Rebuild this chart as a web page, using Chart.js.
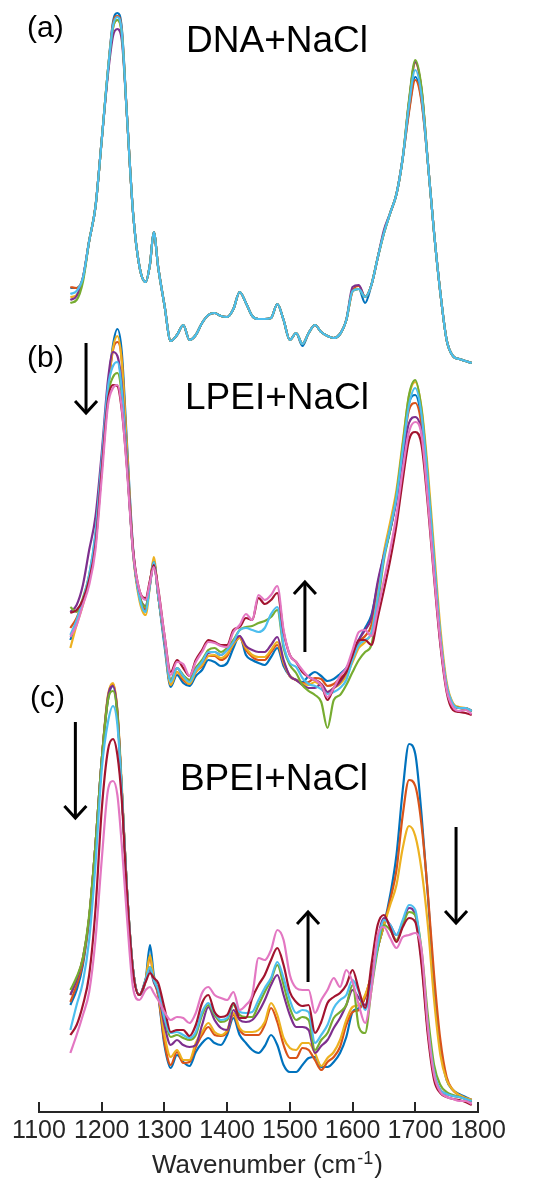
<!DOCTYPE html>
<html>
<head>
<meta charset="utf-8">
<script src="https://cdn.jsdelivr.net/npm/chart.js"></script>
<style>
html,body{margin:0;padding:0;background:#ffffff;}
canvas{display:block;}
</style>
</head>
<body>
<canvas id="c" width="538" height="1178"></canvas>
<script>
// ---------------- DATA ----------------
const wavenumbers = [1150,1160,1170,1180,1190,1200,1210,1218,1225,1232,1240,1250,1260,1270,1277,1283,1290,
  1300,1310,1320,1330,1340,1350,1360,1370,1380,1390,1400,1410,1420,1430,1440,1450,1460,1470,1480,1490,
  1500,1510,1520,1530,1540,1550,1560,1570,1580,1590,1600,1610,1620,1630,1640,1650,1660,1670,1680,1690,
  1700,1710,1720,1730,1740,1750,1760,1770,1780,1790];

const tickValues = [1100,1200,1300,1400,1500,1600,1700,1800];
const panelLabels = ['(a)','(b)','(c)'];
const panelTitles = ['DNA+NaCl','LPEI+NaCl','BPEI+NaCl'];
const panelOffsets = [712, 352, 0];   // vertical stacking offset of each panel (a.u.)

// (a) DNA + NaCl  (intensity, a.u.)
const dnaBlue   = [112,112,122,159,193,260,330,378,387,372,287,187,134,118,136,168,133,95,59,65,75,60,65,77,85,87,84,83,91,108,97,84,81,81,82,96,80,60,67,54,67,75,68,64,62,66,80,109,111,97,115,142,167,187,206,242,290,323,300,238,167,107,60,44,41,39,37];
const dnaOrange = [113,112,122,159,193,260,330,376,384,370,287,187,134,118,136,168,133,95,59,65,75,60,65,77,85,87,84,83,91,108,97,84,81,81,82,96,80,60,67,56,67,75,68,64,62,66,80,109,114,103,115,142,167,187,206,242,288,320,298,238,167,107,60,44,41,39,37];
const dnaYellow = [103,105,122,159,193,260,330,372,380,366,287,187,134,118,136,168,133,95,59,65,75,60,65,77,85,87,84,83,91,108,97,84,81,81,82,96,80,60,67,56,67,75,68,64,62,66,80,109,111,103,115,142,167,187,206,242,298,337,310,238,167,107,60,44,41,39,37];
const dnaPurple = [100,104,122,159,193,260,326,364,371,360,287,187,134,118,136,168,133,95,59,65,75,60,65,77,85,87,84,83,91,108,97,84,81,81,82,96,80,60,67,56,67,75,68,64,62,66,80,113,115,103,115,142,170,187,206,242,298,338,310,238,167,107,60,44,41,39,37];
const dnaGreen  = [97,100,118,159,193,260,330,372,380,366,287,187,134,118,136,168,133,95,59,65,75,60,65,77,85,87,84,83,91,108,97,84,81,81,82,96,80,60,67,56,67,75,68,64,62,66,80,109,111,103,115,142,167,187,206,242,300,340,312,238,167,107,60,44,41,39,37];
const dnaCyan   = [106,109,122,159,193,260,330,374,383,368,287,187,134,118,136,168,133,95,59,65,75,60,65,77,85,87,84,83,91,108,97,84,81,81,82,96,80,60,67,56,67,75,68,64,62,66,80,109,111,103,115,142,167,187,206,242,295,330,304,238,167,107,60,44,41,39,37];

// (b) LPEI + NaCl
const lpeiBlue    = [120,138,157,180,220,292,370,415,431,408,320,212,163,150,175,198,165,115,73,85,77,74,84,90,100,98,94,97,112,124,105,100,97,95,103,112,94,84,80,78,84,88,84,79,81,86,92,103,120,132,145,175,205,230,262,310,357,365,340,276,198,124,75,56,52,52,49];
const lpeiOrange  = [132,142,160,182,222,295,370,410,418,400,310,210,164,151,177,200,165,120,75,88,80,76,88,94,104,104,100,104,116,122,110,103,100,100,108,115,97,84,80,77,78,82,81,74,76,82,88,102,118,124,135,170,205,232,263,310,350,357,335,272,195,122,74,56,52,52,49];
const lpeiYellow  = [112,135,155,180,220,290,370,412,424,398,315,207,160,145,175,203,165,120,75,88,82,76,88,95,104,105,102,106,116,122,112,105,103,103,110,118,98,84,80,76,75,78,74,68,72,76,84,98,112,118,128,165,208,238,270,318,364,378,352,290,210,132,78,57,53,52,49];
const lpeiPurple  = [148,155,175,210,243,307,380,408,404,375,302,208,165,154,177,198,165,120,80,92,84,80,92,98,107,108,105,110,118,124,114,110,108,108,115,123,100,84,80,75,72,72,76,68,72,78,88,105,120,130,142,178,205,230,260,302,337,343,328,265,190,118,72,55,52,51,49];
const lpeiGreen   = [153,148,162,185,225,295,365,383,387,365,298,207,165,153,178,198,165,120,80,92,85,80,92,100,110,112,108,112,120,130,133,134,137,139,143,150,112,95,87,75,69,65,58,32,60,65,75,88,100,108,115,155,200,230,265,315,365,380,350,282,200,122,72,55,52,51,49];
const lpeiCyan    = [125,140,160,185,227,300,373,394,398,370,300,208,163,148,176,198,165,120,78,92,84,78,90,98,108,108,105,110,118,130,132,130,128,132,146,153,115,97,93,82,76,74,71,66,68,72,80,100,115,120,127,162,203,232,263,310,355,372,345,280,200,125,75,56,52,52,49];
const lpeiDarkRed = [147,150,160,180,215,290,360,375,374,350,295,210,170,162,180,195,172,125,88,100,92,84,100,110,120,118,115,115,130,133,142,140,162,156,160,167,128,105,98,88,83,80,76,60,72,80,88,105,120,120,115,142,170,200,235,280,320,328,315,255,182,115,68,50,48,47,45];
const lpeiPink    = [123,135,155,175,210,282,355,372,375,352,292,208,170,160,178,193,170,125,85,98,96,84,98,108,118,117,114,113,128,135,146,140,165,160,165,174,130,105,98,90,83,80,75,63,72,84,92,110,128,130,124,150,180,210,245,290,328,338,325,260,185,118,70,53,49,50,46];

// (c) BPEI + NaCl
const bpeiBlue    = [107,122,147,194,267,352,412,426,397,322,225,142,117,132,167,137,117,67,44,57,50,46,60,69,74,69,67,77,94,77,69,62,59,66,77,67,47,40,40,47,54,55,45,45,50,59,75,100,104,115,137,164,187,217,257,322,368,358,297,217,127,65,32,22,18,15,12];
const bpeiOrange  = [110,127,150,194,267,352,415,428,400,322,225,142,117,132,155,132,117,70,47,60,49,50,65,77,85,77,76,80,97,82,77,77,77,87,104,90,67,54,54,64,62,52,42,50,55,65,87,100,102,115,137,164,187,212,242,297,332,326,287,219,137,72,35,22,17,14,12];
const bpeiYellow  = [117,132,154,194,267,352,417,429,402,327,225,142,117,132,157,134,119,77,55,62,52,52,69,80,89,80,77,82,99,84,80,80,82,90,109,97,74,64,62,69,69,59,46,54,60,72,92,105,107,117,137,164,187,207,227,264,286,276,242,187,112,57,32,22,17,14,12];
const bpeiPurple  = [117,132,154,194,267,352,415,426,400,322,225,142,117,132,142,130,120,87,67,72,67,65,67,87,105,92,84,82,102,92,90,92,100,112,127,137,117,97,85,85,82,59,66,72,84,94,107,122,114,107,132,172,194,187,177,190,204,197,152,82,37,22,18,16,15,13,10];
const bpeiGreen   = [122,135,154,197,267,352,412,421,397,322,225,142,117,132,145,132,122,94,75,77,74,72,77,97,107,97,90,92,107,97,95,95,107,120,132,147,127,104,92,95,92,62,72,79,94,100,107,127,85,79,122,162,187,182,172,187,200,197,162,97,47,27,20,17,15,13,11];
const bpeiCyan    = [82,107,130,172,247,342,390,406,387,322,225,142,117,132,145,132,122,94,79,80,77,74,80,100,109,99,92,94,109,100,99,100,112,124,134,150,134,112,99,102,100,69,77,87,104,112,117,132,120,102,127,167,192,187,177,192,207,202,157,87,40,22,18,16,15,13,11];
const bpeiDarkRed = [77,87,107,137,202,302,362,373,357,312,222,140,117,130,139,134,129,104,80,82,82,76,87,109,117,100,95,97,109,94,94,114,127,137,152,164,147,120,110,106,107,79,90,109,115,119,127,142,122,104,147,187,197,184,170,185,194,190,147,77,32,19,15,13,12,10,7];
const bpeiPink    = [59,77,97,120,172,252,322,331,317,267,197,124,112,122,125,119,112,100,92,95,94,89,99,119,125,117,114,112,120,102,107,117,154,152,162,182,172,137,124,122,122,99,112,122,134,125,142,130,107,89,122,177,185,174,164,175,177,179,162,85,37,20,15,13,11,11,8];

// ---------------- STYLE ----------------
const seriesColors = ['#0072BD','#D95319','#EDB120','#7E2F8E','#77AC30','#4DBEEE','#A2142F','#E377C2'];
const axisColor = '#262626';
const FONT = '"Liberation Sans", Arial, Helvetica, sans-serif';

const panels = [
  [dnaBlue, dnaOrange, dnaYellow, dnaPurple, dnaGreen, dnaCyan],
  [lpeiBlue, lpeiOrange, lpeiYellow, lpeiPurple, lpeiGreen, lpeiCyan, lpeiDarkRed, lpeiPink],
  [bpeiBlue, bpeiOrange, bpeiYellow, bpeiPurple, bpeiGreen, bpeiCyan, bpeiDarkRed, bpeiPink]
];

let datasets = [];
panels.forEach((series, p) => {
  series.forEach((vals, i) => {
    datasets.push({
      label: panelTitles[p] + ' ' + (i + 1),
      data: wavenumbers.map((w, k) => ({ x: w, y: vals[k] + panelOffsets[p] })),
      borderColor: seriesColors[i],
      borderWidth: 2.2,
      pointRadius: 0,
      fill: false,
      cubicInterpolationMode: 'monotone'
    });
  });
});
// first dataset is painted on top in Chart.js, so reverse to keep the plot order
datasets = datasets.reverse();

// annotations (arrows) in data coordinates
const arrows = [
  { x: 1175, from: 769, to: 699 },
  { x: 1524, from: 460, to: 530 },
  { x: 1158, from: 390, to: 294 },
  { x: 1765, from: 285, to: 189 },
  { x: 1529, from: 130, to: 200 }
];

const layoutText = {
  labels: [ {x: 27, y: 37}, {x: 27, y: 367}, {x: 30, y: 707} ],
  titles: [ {x: 277, y: 52}, {x: 277, y: 409}, {x: 274, y: 790} ],
  axisTitle: { x: 152, y: 1173 }
};

const overlay = {
  id: 'overlay',
  afterDraw(chart) {
    const ctx = chart.ctx, xs = chart.scales.x, ys = chart.scales.y;
    ctx.save();
    // inward tick marks
    ctx.strokeStyle = axisColor;
    ctx.lineWidth = 2;
    xs.ticks.forEach(t => {
      const px = Math.round(xs.getPixelForValue(t.value));
      ctx.beginPath();
      ctx.moveTo(px, xs.top);
      ctx.lineTo(px, xs.top - 10);
      ctx.stroke();
    });
    // axis title with superscript
    ctx.fillStyle = axisColor;
    ctx.textAlign = 'left';
    ctx.textBaseline = 'alphabetic';
    ctx.font = '26px ' + FONT;
    let ax = layoutText.axisTitle.x, ay = layoutText.axisTitle.y;
    const t1 = 'Wavenumber (cm';
    ctx.fillText(t1, ax, ay);
    ax += ctx.measureText(t1).width;
    ctx.font = '18px ' + FONT;
    ctx.fillText('-1', ax + 1, ay - 9);
    ax += ctx.measureText('-1').width + 2;
    ctx.font = '26px ' + FONT;
    ctx.fillText(')', ax, ay);
    // panel letters and titles
    ctx.fillStyle = '#000';
    ctx.font = '30px ' + FONT;
    panelLabels.forEach((s, i) => ctx.fillText(s, layoutText.labels[i].x, layoutText.labels[i].y));
    ctx.textAlign = 'center';
    ctx.font = '37px ' + FONT;
    panelTitles.forEach((s, i) => ctx.fillText(s, layoutText.titles[i].x, layoutText.titles[i].y));
    // arrows
    ctx.strokeStyle = '#000';
    ctx.lineWidth = 3;
    ctx.lineJoin = 'miter';
    arrows.forEach(a => {
      const x = xs.getPixelForValue(a.x);
      const y1 = ys.getPixelForValue(a.from);
      const y2 = ys.getPixelForValue(a.to);
      const dir = y2 > y1 ? 1 : -1;
      ctx.beginPath();
      ctx.moveTo(x, y1);
      ctx.lineTo(x, y2 - dir * 1);
      ctx.stroke();
      ctx.beginPath();
      ctx.moveTo(x - 11, y2 - dir * 12);
      ctx.lineTo(x, y2);
      ctx.lineTo(x + 11, y2 - dir * 12);
      ctx.stroke();
    });
    ctx.restore();
  }
};

Chart.defaults.font.family = FONT;

new Chart(document.getElementById('c'), {
  type: 'line',
  data: { datasets },
  options: {
    responsive: false,
    animation: false,
    devicePixelRatio: 1,
    layout: { padding: { left: 39, right: 60, top: 0, bottom: 0 } },
    plugins: { legend: { display: false }, tooltip: { enabled: false } },
    elements: { point: { radius: 0 } },
    scales: {
      x: {
        type: 'linear',
        min: 1100,
        max: 1800,
        afterBuildTicks: s => { s.ticks = tickValues.map(v => ({ value: v })); },
        afterFit: s => { s.height = 66; },
        grid: { display: false, drawTicks: false },
        border: { display: true, color: axisColor, width: 2 },
        ticks: {
          autoSkip: false, maxRotation: 0, padding: 4,
          color: axisColor,
          font: { size: 25, family: FONT },
          callback: v => String(v)
        }
      },
      y: { type: 'linear', display: false, min: 0, max: 1112 }
    }
  },
  plugins: [overlay]
});
</script>
</body>
</html>
